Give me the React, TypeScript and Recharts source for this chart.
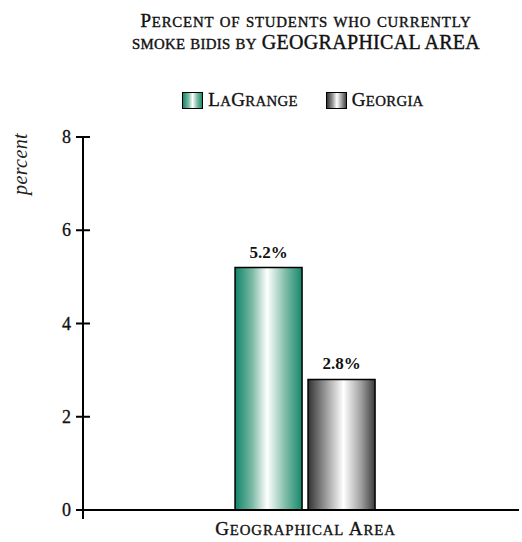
import { BarChart, Bar, XAxis, YAxis, Legend, LabelList } from "recharts";

const categories = ["Geographical Area"];
const seriesNames = ["LaGrange", "Georgia"];
const lagrangeValues = [5.2];
const georgiaValues = [2.8];
const yTicks = [0, 2, 4, 6, 8];

const seriesFills = ["url(#gradGreen)", "url(#gradGray)"];
const swatchCss = [
  "linear-gradient(90deg, #14876a 0%, #7dbba5 30%, #ffffff 50%, #7dbba5 75%, #1a8a6c 100%)",
  "linear-gradient(90deg, #333 0%, #9a9a9a 30%, #ffffff 52%, #9a9a9a 78%, #444 100%)",
];

const data = categories.map((name, i) => ({
  name,
  LaGrange: lagrangeValues[i],
  Georgia: georgiaValues[i],
}));

const serif = "'Liberation Serif', 'DejaVu Serif', serif";

// split text into runs of capitals (full size) and lower case (shown as smaller capitals)
function capRuns(text: string) {
  const runs: { t: string; big: boolean }[] = [];
  for (const ch of text) {
    const big = ch !== ch.toLowerCase() || ch === " ";
    const last = runs[runs.length - 1];
    if (last && last.big === big) last.t += ch;
    else runs.push({ t: ch, big });
  }
  return runs;
}

const SmallCaps = ({ text, size, ratio = 0.78 }: { text: string; size: number; ratio?: number }) => (
  <>
    {capRuns(text).map((r, i) => (
      <span key={i} style={{ fontSize: r.big ? size : size * ratio }}>
        {r.t.toUpperCase()}
      </span>
    ))}
  </>
);

const SvgSmallCaps = ({ text, size, ratio = 0.78 }: { text: string; size: number; ratio?: number }) => (
  <>
    {capRuns(text).map((r, i) => (
      <tspan key={i} fontSize={r.big ? size : size * ratio}>
        {r.t.toUpperCase()}
      </tspan>
    ))}
  </>
);

const YTick = (props: any) => {
  const { x, y, payload } = props;
  const axisX = x + 7;
  return (
    <g>
      <line x1={axisX - 7} x2={axisX + 7} y1={y} y2={y} stroke="#000" strokeWidth={2} />
      {payload.value === 0 && (
        <line x1={axisX} x2={axisX} y1={y} y2={y + 9} stroke="#000" strokeWidth={2} />
      )}
      <text
        x={x - 5}
        y={y}
        dy={6}
        textAnchor="end"
        fontFamily={serif}
        fontSize={18}
        fill="#111"
        stroke="#111"
        strokeWidth={0.3}
      >
        {payload.value}
      </text>
    </g>
  );
};

const XTick = (props: any) => {
  const { x, y, payload } = props;
  return (
    <text
      x={x}
      y={y}
      dy={17}
      textAnchor="middle"
      fontFamily={serif}
      fill="#111"
      stroke="#111"
      strokeWidth={0.35}
      letterSpacing={0.9}
    >
      <SvgSmallCaps text={payload.value} size={19} />
    </text>
  );
};

const LegendContent = () => (
  <div style={{ display: "flex", justifyContent: "center", gap: 28, paddingLeft: 84 }}>
    {seriesNames.map((n, i) => (
      <div key={n} style={{ display: "flex", alignItems: "center", gap: 5 }}>
        <span
          style={{
            display: "inline-block",
            width: 19,
            height: 15,
            border: "1px solid #000",
            background: swatchCss[i],
          }}
        />
        <span
          style={{
            fontFamily: serif,
            color: "#111",
            lineHeight: "18px",
            letterSpacing: 0.3,
            WebkitTextStroke: "0.35px #111",
          }}
        >
          <SmallCaps text={n} size={19} />
        </span>
      </div>
    ))}
  </div>
);

export default function App() {
  return (
    <div style={{ position: "absolute", left: 0, top: 0, width: 522, height: 542, background: "#fff" }}>
      <div
        style={{
          position: "absolute",
          top: 11,
          left: 90,
          width: 432,
          textAlign: "center",
          fontFamily: serif,
          lineHeight: "20px",
          color: "#111",
          WebkitTextStroke: "0.4px #111",
        }}
      >
        <span style={{ letterSpacing: 0.8 }}>
          <SmallCaps text="Percent of students who currently" size={19} />
        </span>
        <br />
        <span style={{ letterSpacing: 0.3 }}>
          <SmallCaps text="smoke bidis by " size={19} />
          <span style={{ fontSize: 20 }}>GEOGRAPHICAL AREA</span>
        </span>
      </div>
      <BarChart
        width={522}
        height={542}
        data={data}
        margin={{ top: 137, right: 3, bottom: 2, left: 0 }}
        barCategoryGap="33.5%"
        barGap={6}
      >
        <defs>
          <linearGradient id="gradGreen" x1="0" y1="0" x2="1" y2="0">
            <stop offset="0%" stopColor="#10846a" />
            <stop offset="25%" stopColor="#78b8a2" />
            <stop offset="48%" stopColor="#ffffff" />
            <stop offset="75%" stopColor="#80bda8" />
            <stop offset="100%" stopColor="#16886c" />
          </linearGradient>
          <linearGradient id="gradGray" x1="0" y1="0" x2="1" y2="0">
            <stop offset="0%" stopColor="#333333" />
            <stop offset="28%" stopColor="#a0a0a0" />
            <stop offset="53%" stopColor="#ffffff" />
            <stop offset="80%" stopColor="#9c9c9c" />
            <stop offset="100%" stopColor="#3c3c3c" />
          </linearGradient>
        </defs>
        <text
          x={20}
          y={164}
          transform="rotate(-90 20 164)"
          textAnchor="middle"
          dominantBaseline="central"
          fontFamily={serif}
          fontStyle="italic"
          fontSize={20}
          letterSpacing={0.4}
          fill="#222"
        >
          percent
        </text>
        <XAxis
          dataKey="name"
          padding={{ left: 9, right: 0 }}
          axisLine={{ stroke: "#000", strokeWidth: 2 }}
          tickLine={false}
          tick={<XTick />}
        />
        <YAxis
          width={83}
          domain={[0, 8]}
          ticks={yTicks}
          interval={0}
          tickSize={7}
          tickMargin={0}
          tickLine={false}
          axisLine={{ stroke: "#000", strokeWidth: 2 }}
          tick={<YTick />}
        />
        <Legend
          verticalAlign="middle"
          layout="horizontal"
          wrapperStyle={{ top: 91, left: 0, width: 522 }}
          content={<LegendContent />}
        />
        {seriesNames.map((n, i) => (
          <Bar
            key={n}
            dataKey={n}
            fill={seriesFills[i]}
            stroke="#000"
            strokeWidth={1.5}
            isAnimationActive={false}
          >
            <LabelList
              dataKey={n}
              position="top"
              offset={10}
              formatter={(v: any) => `${Number(v).toFixed(1)}%`}
              style={{ fontFamily: serif, fontSize: 17, fontWeight: 600, fill: "#111" }}
            />
          </Bar>
        ))}
      </BarChart>
    </div>
  );
}
